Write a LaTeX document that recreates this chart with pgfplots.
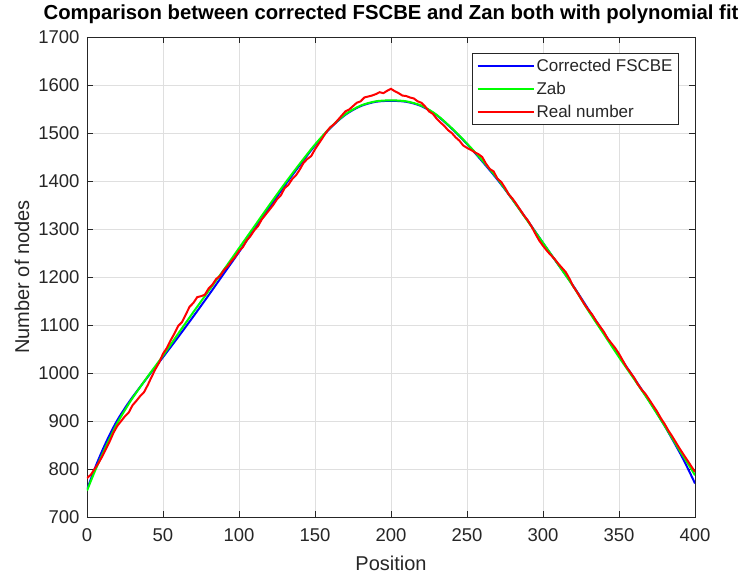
\documentclass[border=0pt]{standalone}
\usepackage{fontspec}
\setmainfont{Liberation Sans}
\usepackage{pgfplots}
\pgfplotsset{compat=1.18}
\definecolor{axc}{RGB}{38,38,38}
\definecolor{gridc}{RGB}{223,223,223}
\definecolor{mblue}{RGB}{0,0,255}
\definecolor{mgreen}{RGB}{0,255,0}
\definecolor{mred}{RGB}{255,0,0}
\begin{document}
\begin{tikzpicture}
\begin{axis}[
  scale only axis, width=608pt, height=480pt,
  xmin=0, xmax=400, ymin=700, ymax=1700,
  xtick={0,50,...,400}, ytick={700,800,...,1700},
  grid=major, major grid style={gridc, line width=0.7pt},
  axis line style={axc, line width=0.8pt},
  tick style={axc, line width=0.8pt},
  tick align=inside, major tick length=6pt,
  /pgf/number format/assume math mode=true,
  /pgf/number format/1000 sep={},
  ticklabel style={font=\fontsize{18.5}{20}\selectfont, text=axc},
  xticklabel style={yshift=-8pt},
  yticklabel style={xshift=-4pt},
  xlabel={Position}, ylabel={Number of nodes},
  label style={font=\fontsize{20}{22}\selectfont, text=axc},
  xlabel style={yshift=-8pt},
  ylabel style={yshift=2pt},
  title={Comparison between corrected FSCBE and Zan both with polynomial fit},
  title style={font=\bfseries\fontsize{20.3}{22}\selectfont, text=black, yshift=4pt},
  legend cell align=left,
  legend style={at={(1,1)}, anchor=north east, xshift=-16pt, yshift=-16pt,
    draw=axc, line width=0.8pt, fill=white,
    font=\fontsize{17}{19}\selectfont, text=axc,
    inner xsep=4pt, inner ysep=4pt, row sep=5pt},
  legend image code/.code={\draw[#1] (0pt,0pt) -- (56pt,0pt);},
]
\addplot[mblue, line width=2pt, smooth] coordinates {
(0,757) (5,800) (10,838) (15,872) (20,902) (25,927) (30,950) (40,992) (50,1033) (60,1075) (70,1118) (80,1162) (90,1207)
(100,1252) (110,1299) (120,1345) (130,1390) (140,1433) (150,1474) (160,1510) (170,1538) (180,1556) (190,1565)
(200,1567) (210,1565) (220,1556) (230,1537) (240,1509) (250,1477) (260,1441) (270,1403) (280,1361) (290,1317)
(300,1271) (310,1226) (320,1181) (330,1132) (340,1084) (350,1036) (360,989) (370,941) (380,890) (390,834) (395,803) (400,770)};
\addlegendentry{Corrected FSCBE}
\addplot[mgreen, line width=2pt, smooth] coordinates {
(0,755) (5,794) (10,830) (15,864) (20,896) (25,923) (30,948) (40,993) (50,1036) (60,1082) (70,1127) (80,1171) (90,1215)
(100,1260) (110,1305) (120,1350) (130,1394) (140,1436) (150,1476) (160,1511) (170,1539) (180,1557) (190,1566)
(200,1568) (210,1566) (220,1557) (230,1538) (240,1510) (250,1478) (260,1443) (270,1405) (280,1361) (290,1316)
(300,1271) (310,1226) (320,1180) (330,1129) (340,1081) (350,1033) (360,987) (370,940) (380,890) (390,838) (395,813) (400,787)};
\addlegendentry{Zab}
\addplot[mred, line width=2pt] coordinates {
(0,781) (2.5,788) (5,800) (7.5,812) (10,826) (12.5,842) (15,858) (17.5,876) (20,890) (22.5,900)
(25,910) (27.5,918) (30,933) (32.5,942) (35,952) (37.5,960) (40,975) (42.5,992) (45,1008) (47.5,1022)
(50,1040) (52.5,1052) (55,1068) (57.5,1082) (60,1098) (62.5,1106) (65,1122) (67.5,1138) (70,1146) (72.5,1158)
(75,1160) (77.5,1163) (80,1176) (82.5,1184) (85,1196) (87.5,1202) (90,1214) (92.5,1222) (95,1233) (97.5,1242)
(100,1254) (102.5,1262) (105,1276) (107.5,1285) (110,1297) (112.5,1306) (115,1320) (117.5,1330) (120,1340) (122.5,1350)
(125,1362) (127.5,1370) (130,1385) (132.5,1392) (135,1404) (137.5,1412) (140,1424) (142.5,1438) (145,1446) (147.5,1452)
(150,1466) (152.5,1478) (155,1490) (157.5,1502) (160,1512) (162.5,1518) (165,1527) (167.5,1536) (170,1545) (172.5,1549)
(175,1556) (177.5,1563) (180,1566) (182.5,1574) (185,1576) (187.5,1578) (190,1581) (192.5,1585) (195,1583) (197.5,1588)
(200,1592) (202.5,1587) (205,1583) (207.5,1578) (210,1577) (212.5,1574) (215,1572) (217.5,1566) (220,1563) (222.5,1555)
(225,1545) (227.5,1540) (230,1530) (232.5,1522) (235,1515) (237.5,1506) (240,1500) (242.5,1491) (245,1484) (247.5,1474)
(250,1469) (252.5,1465) (255,1460) (257.5,1456) (260,1450) (262.5,1436) (265,1425) (267.5,1420) (270,1405) (272.5,1398)
(275,1386) (277.5,1372) (280,1363) (282.5,1352) (285,1340) (287.5,1328) (290,1318) (292.5,1305) (295,1290) (297.5,1276)
(300,1265) (302.5,1255) (305,1246) (307.5,1238) (310,1228) (312.5,1219) (315,1210) (317.5,1196) (320,1180) (322.5,1168)
(325,1155) (327.5,1142) (330,1131) (332.5,1121) (335,1108) (337.5,1097) (340,1086) (342.5,1072) (345,1062) (347.5,1052)
(350,1040) (352.5,1026) (355,1012) (357.5,1001) (360,990) (362.5,976) (365,965) (367.5,956) (370,944) (372.5,932)
(375,920) (377.5,906) (380,894) (382.5,880) (385,868) (387.5,855) (390,842) (392.5,830) (395,818) (397.5,806) (400,794)};
\addlegendentry{Real number}
\coordinate (bl) at (rel axis cs:0,0);
\coordinate (tr) at (rel axis cs:1,1);
\end{axis}
\pgfresetboundingbox
\path[use as bounding box] ([xshift=-87pt,yshift=-59pt]bl) rectangle ([xshift=51pt,yshift=37pt]tr);
\end{tikzpicture}
\end{document}
